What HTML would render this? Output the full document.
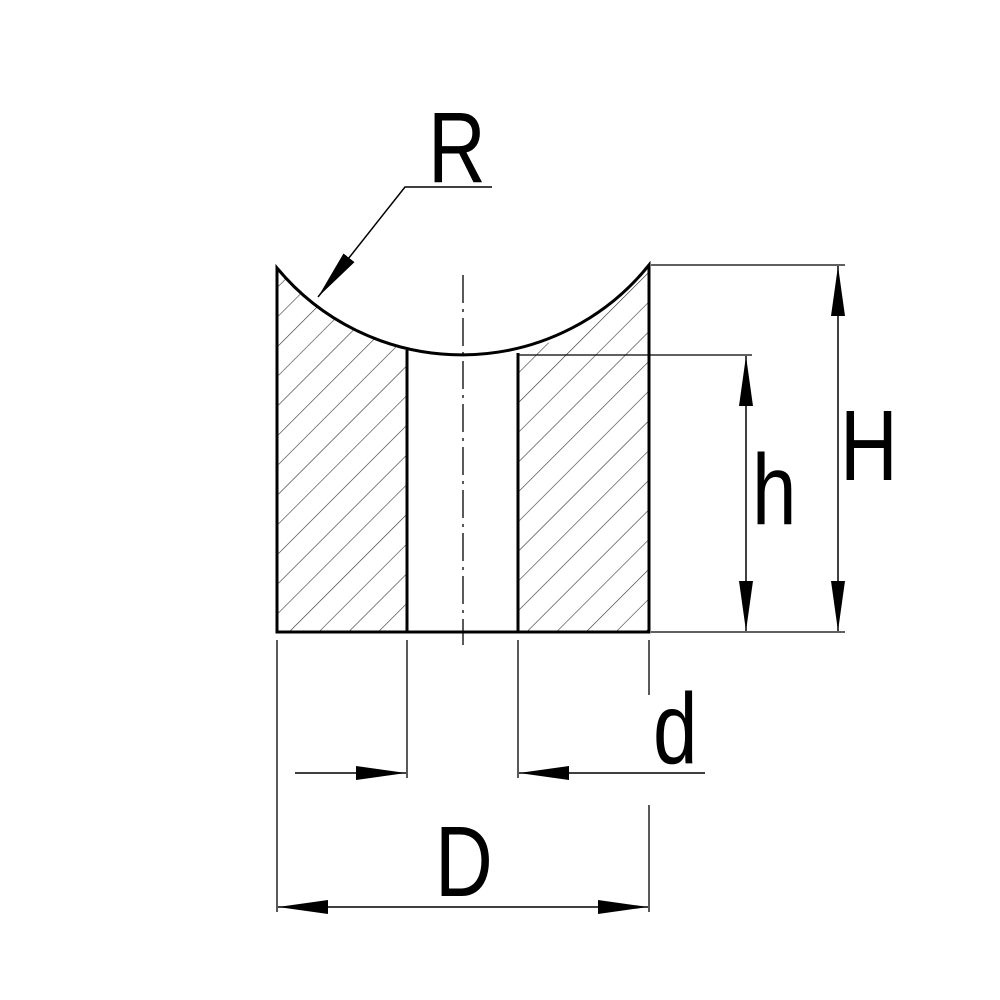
<!DOCTYPE html>
<html><head><meta charset="utf-8"><style>html,body{margin:0;padding:0;background:#fff}svg{display:block}</style></head>
<body>
<svg width="1000" height="1000" viewBox="0 0 1000 1000" xmlns="http://www.w3.org/2000/svg">
<defs>
<pattern id="hatch" patternUnits="userSpaceOnUse" width="21" height="21" patternTransform="rotate(45)">
<line x1="0" y1="0" x2="0" y2="21" stroke="#333" stroke-width="1.2"/>
</pattern>
<marker id="ar" markerWidth="50" markerHeight="14" refX="50" refY="7" orient="auto" markerUnits="userSpaceOnUse">
<path d="M0,0 L50,7 L0,14 Z" fill="#000"/>
</marker>
</defs>
<!-- hatched body -->
<path d="M277,268 A240 240 0 0 0 407,350 L407,632 L277,632 Z" fill="url(#hatch)"/>
<path d="M518,353 A240 240 0 0 0 649,265 L649,632 L518,632 Z" fill="url(#hatch)"/>
<!-- outline -->
<path d="M277,632 L277,268 A240 240 0 0 0 649,265 L649,632 Z" fill="none" stroke="#000" stroke-width="3"/>
<line x1="407" y1="350" x2="407" y2="632" stroke="#000" stroke-width="3"/>
<line x1="518" y1="353" x2="518" y2="632" stroke="#000" stroke-width="3"/>
<!-- centerline -->
<line x1="463" y1="275" x2="463" y2="645" stroke="#000" stroke-width="1.3" stroke-dasharray="28,6,3,6"/>
<!-- extension lines -->
<g stroke="#000" stroke-width="1.3">
<line x1="651" y1="265" x2="845" y2="265"/>
<line x1="651" y1="632" x2="845" y2="632"/>
<line x1="518" y1="355" x2="752" y2="355"/>
<line x1="277" y1="640" x2="277" y2="912"/>
<line x1="407" y1="640" x2="407" y2="778"/>
<line x1="518" y1="640" x2="518" y2="778"/>
<line x1="649" y1="640" x2="649" y2="695"/>
<line x1="649" y1="805" x2="649" y2="912"/>
</g>
<!-- dimension lines -->
<g stroke="#000" stroke-width="1.5" fill="none">
<line x1="838" y1="450" x2="838" y2="266" marker-end="url(#ar)"/>
<line x1="838" y1="450" x2="838" y2="631" marker-end="url(#ar)"/>
<line x1="746" y1="490" x2="746" y2="356" marker-end="url(#ar)"/>
<line x1="746" y1="490" x2="746" y2="631" marker-end="url(#ar)"/>
<line x1="295" y1="773" x2="406" y2="773" marker-end="url(#ar)"/>
<line x1="705" y1="773" x2="519" y2="773" marker-end="url(#ar)"/>
<line x1="463" y1="907" x2="278" y2="907" marker-end="url(#ar)"/>
<line x1="463" y1="907" x2="648" y2="907" marker-end="url(#ar)"/>
<polyline points="492,187 405,187 318,297" marker-end="url(#ar)"/>
</g>
<!-- labels -->
<g font-family="Liberation Sans, sans-serif" font-size="100" fill="#000">
<text x="0" y="0" transform="translate(428,182) scale(0.8,1)">R</text>
<text x="0" y="0" transform="translate(840,480) scale(0.8,1)">H</text>
<text x="0" y="0" transform="translate(752,524) scale(0.8,1)">h</text>
<text x="0" y="0" transform="translate(653,763) scale(0.8,1)">d</text>
<text x="0" y="0" transform="translate(435,896) scale(0.8,1)">D</text>
</g>
</svg>
</body></html>
